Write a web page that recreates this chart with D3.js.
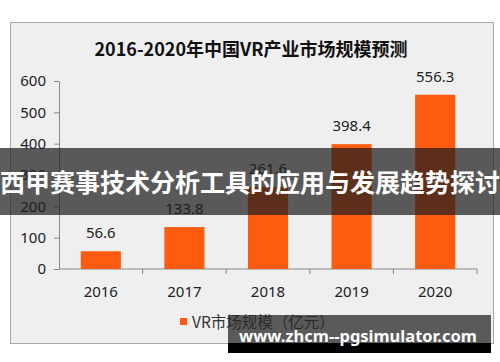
<!DOCTYPE html>
<html>
<head>
  <meta charset="utf-8" />
  <script src="https://d3js.org/d3.v7.min.js"></script>
</head>
<style>
body { margin: 0; background: #fff; }
text { font-family: "Noto Sans", "Noto Sans CJK SC", sans-serif; }
.cjk { font-family: "Noto Sans CJK SC", sans-serif; }
</style>
<body>
<div id="viz"></div>
<script>
'use strict';

const years = ['2016', '2017', '2018', '2019', '2020'];
const values = [56.6, 133.8, 261.6, 398.4, 556.3];
const yTicks = [0, 100, 200, 300, 400, 500, 600];
const title = '2016-2020年中国VR产业市场规模预测';
const legendLabel = 'VR市场规模（亿元）';
const banner = '西甲赛事技术分析工具的应用与发展趋势探讨';
const watermark = 'www.zhcm--pgsimulator.com';

const barfill = '#fd5c10';

const svg = d3.select('#viz')
  .append('svg')
    .attr('width', 500)
    .attr('height', 362);

// panel
svg.append('rect')
  .attr('x', 10.5).attr('y', 22.5)
  .attr('width', 483).attr('height', 321)
  .attr('fill', '#efefef')
  .attr('stroke', '#a8a8a8');

svg.append('text')
  .attr('class', 'cjk')
  .attr('x', 251).attr('y', 56)
  .attr('text-anchor', 'middle')
  .attr('font-size', 18).attr('font-weight', 'bold')
  .attr('fill', '#111')
  .text(title);

const xscale = d3.scaleBand()
  .domain(years)
  .range([59, 477])
  .paddingInner(0.52)
  .paddingOuter(0.26);

const yscale = d3.scaleLinear()
  .domain([0, 600])
  .range([269, 81]);

const yAxis = svg.append('g')
  .attr('transform', 'translate(59,0)')
  .call(d3.axisLeft(yscale).tickValues(yTicks).tickSize(5).tickSizeOuter(0));
yAxis.select('.domain').attr('stroke', '#888');
yAxis.selectAll('.tick line').attr('stroke', '#888');
yAxis.selectAll('.tick text')
  .attr('font-size', 15).attr('fill', '#222')
  .attr('font-family', '"Noto Sans", sans-serif')
  .attr('x', -13);

// x axis with ticks at band boundaries
const xAxisG = svg.append('g').attr('transform', 'translate(0,269)');
xAxisG.append('line')
  .attr('x1', 59).attr('x2', 477)
  .attr('stroke', '#888');
const step = xscale.step();
xAxisG.selectAll('line.tk')
  .data(d3.range(1, years.length + 1))
  .enter().append('line')
  .attr('class', 'tk')
  .attr('x1', i => 59 + i * step).attr('x2', i => 59 + i * step)
  .attr('y1', 0).attr('y2', 5)
  .attr('stroke', '#888');
xAxisG.selectAll('text')
  .data(years)
  .enter().append('text')
  .attr('x', d => xscale(d) + xscale.bandwidth() / 2)
  .attr('y', 28)
  .attr('text-anchor', 'middle')
  .attr('font-size', 15).attr('fill', '#222')
  .text(d => d);

svg.selectAll('rect.bar')
  .data(values)
  .enter().append('rect')
  .attr('class', 'bar')
  .attr('x', (d, i) => xscale(years[i]))
  .attr('y', d => yscale(d))
  .attr('width', xscale.bandwidth())
  .attr('height', d => yscale(0) - yscale(d))
  .attr('fill', barfill);

svg.selectAll('text.val')
  .data(values)
  .enter().append('text')
  .attr('class', 'val')
  .attr('x', (d, i) => xscale(years[i]) + xscale.bandwidth() / 2)
  .attr('y', d => yscale(d) - 13)
  .attr('text-anchor', 'middle')
  .attr('font-size', 15).attr('fill', '#222')
  .text(d => d);

// legend
svg.append('rect')
  .attr('x', 180).attr('y', 318)
  .attr('width', 7).attr('height', 7)
  .attr('fill', barfill);
svg.append('text')
  .attr('class', 'cjk')
  .attr('x', 192).attr('y', 328)
  .attr('font-size', 15.5).attr('fill', '#333')
  .text(legendLabel);

// overlay banner
svg.append('rect')
  .attr('x', 0).attr('y', 148)
  .attr('width', 500).attr('height', 67)
  .attr('fill', 'rgba(30,30,30,0.72)');
svg.append('text')
  .attr('class', 'cjk')
  .attr('x', 250).attr('y', 192)
  .attr('text-anchor', 'middle')
  .attr('font-size', 25).attr('font-weight', 'bold')
  .attr('fill', '#fff')
  .text(banner);

// watermark
svg.append('rect')
  .attr('x', 228).attr('y', 315)
  .attr('width', 263).attr('height', 28)
  .attr('fill', 'rgba(40,40,40,0.75)');
svg.append('rect')
  .attr('x', 228).attr('y', 343)
  .attr('width', 263).attr('height', 10)
  .attr('fill', '#000');
svg.append('text')
  .attr('x', 358).attr('y', 342)
  .attr('text-anchor', 'middle')
  .attr('font-family', '"DejaVu Sans", sans-serif')
  .attr('font-size', 16.5).attr('font-weight', 'bold')
  .attr('fill', '#fff')
  .text(watermark);
</script>
</body>
</html>
